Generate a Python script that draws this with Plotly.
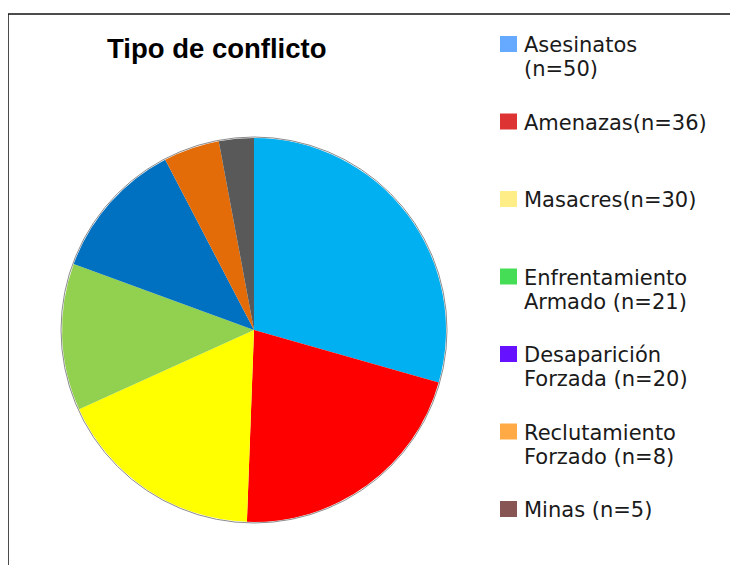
import plotly.graph_objects as go

W, H = 738, 565

# ---- data ----
categories = ["Asesinatos", "Amenazas", "Masacres", "Enfrentamiento Armado",
              "Desaparición Forzada", "Reclutamiento Forzado", "Minas"]
values = [50, 36, 30, 21, 20, 8, 5]
legend_labels = ["Asesinatos<br>(n=50)", "Amenazas(n=36)", "Masacres(n=30)",
                 "Enfrentamiento<br>Armado (n=21)", "Desaparición<br>Forzada (n=20)",
                 "Reclutamiento<br>Forzado (n=8)", "Minas (n=5)"]
slice_colors = ["#00B0F0", "#FF0000", "#FFFF00", "#92D050", "#0070C0", "#E36C09", "#595959"]
legend_colors = ["#66AAFF", "#DD3333", "#FFEE88", "#44DD55", "#6611FF", "#FFAA44", "#885555"]
title_text = "Tipo de conflicto"

OX, OY = 8, 8  # page offset of the plot div


def px(x):
    return (x - OX) / W


def py(y):
    return 1 - (y - OY) / H


cx, cy, r = 254, 330, 192

fig = go.Figure()
fig.add_trace(go.Pie(
    labels=categories, values=values, sort=False, direction="clockwise", rotation=0,
    marker=dict(colors=slice_colors, line=dict(width=0)),
    textinfo="none", hoverinfo="label+value", showlegend=False,
    domain=dict(x=[px(cx - r), px(cx + r)], y=[py(cy + r), py(cy - r)]),
))

shapes = []
# outline around the pie
shapes.append(dict(type="circle", xref="paper", yref="paper",
                   x0=px(cx - r - 1), x1=px(cx + r + 1), y0=py(cy + r + 1), y1=py(cy - r - 1),
                   line=dict(color="#8c8c8c", width=1)))
# chart frame (left and top edges visible)
shapes.append(dict(type="line", xref="paper", yref="paper", x0=px(8), x1=px(760),
                   y0=py(14), y1=py(14), line=dict(color="#111111", width=1.5)))
shapes.append(dict(type="line", xref="paper", yref="paper", x0=px(8), x1=px(8),
                   y0=py(14), y1=py(590), line=dict(color="#111111", width=1.5)))

annotations = [dict(text="<b>" + title_text + "</b>", xref="paper", yref="paper",
                    x=px(217), y=py(49), xanchor="center", yanchor="middle", showarrow=False,
                    font=dict(family="Liberation Sans, Arial", size=27.5, color="#000000"))]

top0, step = 36, 77.5
for i, (lab, col) in enumerate(zip(legend_labels, legend_colors)):
    top = top0 + step * i
    shapes.append(dict(type="rect", xref="paper", yref="paper",
                       x0=px(500), x1=px(517), y0=py(top + 16), y1=py(top),
                       line=dict(width=0), fillcolor=col))
    for j, line in enumerate(lab.split("<br>")):
        annotations.append(dict(text=line, xref="paper", yref="paper",
                                x=px(522), y=py(top + 9 + 24 * j), xanchor="left", yanchor="middle",
                                showarrow=False,
                                font=dict(family="DejaVu Sans", size=21, color="#1a1a1a")))

fig.update_layout(width=W, height=H, autosize=False, margin=dict(l=0, r=0, t=0, b=0),
                  paper_bgcolor="white", plot_bgcolor="white",
                  shapes=shapes, annotations=annotations)

fig.write_html("out.html")
